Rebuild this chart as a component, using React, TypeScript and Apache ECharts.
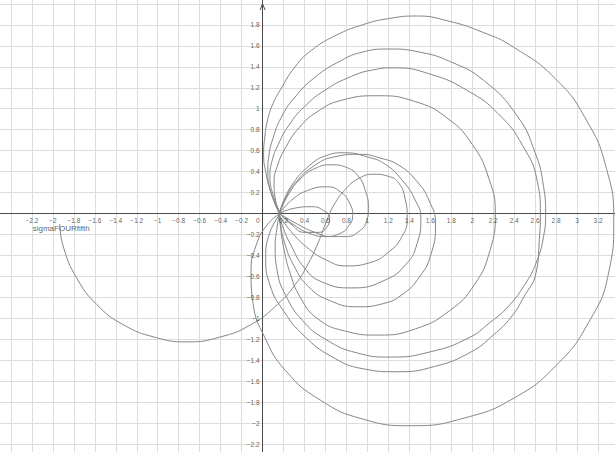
import React, { useEffect, useRef } from 'react';
import * as echarts from 'echarts';

// axis ranges and ticks (data units)
const xRange = [-2.6, 3.4];
const yRange = [-2.4, 2.2];
const tickStep = 0.2;
const xTickLabels = [-2.2, -2, -1.8, -1.6, -1.4, -1.2, -1, -0.8, -0.6, -0.4, -0.2, 0.2, 0.4, 0.6, 0.8, 1, 1.2, 1.4, 1.6, 1.8, 2, 2.2, 2.4, 2.6, 2.8, 3, 3.2];
const yTickLabels = [-2.2, -2, -1.8, -1.6, -1.4, -1.2, -1, -0.8, -0.6, -0.4, -0.2, 0.2, 0.4, 0.6, 0.8, 1, 1.2, 1.4, 1.6, 1.8];
const originLabel = '0';
const curveLabel = 'sigmaFOURfifth';

// traced curve pieces [x, y]
const startArc = [
  [-1.935, -0.1], [-1.9, -0.32], [-1.77, -0.62], [-1.58, -0.87], [-1.33, -1.06], [-1.03, -1.18],
  [-0.72, -1.225], [-0.41, -1.18], [-0.11, -1.06], [0.14, -0.87], [0.31, -0.68], [0.44, -0.47],
  [0.53, -0.28], [0.6, -0.1], [0.68, 0.08], [0.79, 0.23], [0.91, 0.33], [1.06, 0.375], [1.2, 0.355],
  [1.3, 0.29], [1.36, 0.14], [1.38, -0.04], [1.33, -0.22], [1.2, -0.37], [1.02, -0.47], [0.8, -0.5],
  [0.6, -0.44], [0.42, -0.32], [0.27, -0.17], [0.16, -0.02],
];

const loopOuter = [
  [0.17, 0.0], [0.08, 0.2], [0.03, 0.4], [0.01, 0.56], [0.02, 0.72], [0.05, 0.9], [0.1, 1.05],
  [0.17, 1.18], [0.31, 1.4], [0.47, 1.56], [0.7, 1.7], [0.95, 1.8], [1.2, 1.86], [1.47, 1.885],
  [1.76, 1.84], [2.1, 1.73], [2.39, 1.59], [2.79, 1.29], [3.09, 0.89], [3.28, 0.43], [3.35, -0.07],
  [3.3, -0.57], [3.11, -1.04], [2.8, -1.45], [2.4, -1.76], [1.93, -1.95], [1.42, -2.025],
  [0.95, -1.96], [0.55, -1.78], [0.22, -1.5], [0.02, -1.18], [-0.09, -0.86], [-0.11, -0.56],
  [-0.06, -0.3], [0.05, -0.1], [0.17, 0.0],
];

const loopBig2 = [
  [0.16, 0.0], [0.08, 0.2], [0.05, 0.4], [0.06, 0.55], [0.1, 0.72], [0.18, 0.92], [0.3, 1.1],
  [0.5, 1.3], [0.75, 1.46], [0.95, 1.54], [1.2, 1.57], [1.5, 1.54], [1.79, 1.45], [2.11, 1.27],
  [2.43, 0.93], [2.6, 0.58], [2.68, 0.26], [2.7, 0.0], [2.68, -0.22], [2.61, -0.47], [2.5, -0.68],
  [2.35, -0.88], [2.17, -1.04], [1.96, -1.19], [1.6, -1.32], [1.22, -1.37], [0.9, -1.33], [0.6, -1.2],
  [0.38, -1.02], [0.22, -0.78], [0.14, -0.55], [0.12, -0.32], [0.14, -0.12], [0.16, 0.0],
];

const loopBig3 = [
  [0.17, 0.0], [0.1, 0.18], [0.07, 0.35], [0.09, 0.5], [0.15, 0.66], [0.25, 0.84], [0.4, 1.02],
  [0.6, 1.18], [0.85, 1.31], [1.05, 1.37], [1.25, 1.39], [1.6, 1.33], [1.96, 1.17], [2.25, 0.95],
  [2.48, 0.65], [2.62, 0.31], [2.65, 0.0], [2.64, -0.25], [2.61, -0.56], [2.49, -0.8], [2.37, -0.99],
  [2.2, -1.16], [1.99, -1.32], [1.64, -1.46], [1.28, -1.51], [0.95, -1.48], [0.65, -1.36],
  [0.4, -1.17], [0.2, -0.93], [0.07, -0.68], [0.03, -0.42], [0.07, -0.18], [0.17, 0.0],
];

const loopBig4 = [
  [0.16, 0.0], [0.12, 0.15], [0.11, 0.3], [0.14, 0.45], [0.22, 0.63], [0.35, 0.82], [0.52, 0.97],
  [0.75, 1.08], [1.105, 1.124], [1.45, 1.07], [1.75, 0.92], [2.0, 0.66], [2.16, 0.33], [2.22, 0.0],
  [2.17, -0.35], [2.02, -0.68], [1.78, -0.93], [1.46, -1.1], [1.105, -1.16], [0.78, -1.12],
  [0.52, -1.0], [0.36, -0.8], [0.26, -0.56], [0.2, -0.32], [0.17, -0.12], [0.16, 0.0],
];

const loopMid5 = [
  [0.16, 0.0], [0.22, 0.15], [0.32, 0.3], [0.47, 0.44], [0.68, 0.54], [0.93, 0.565], [1.12, 0.53],
  [1.3, 0.46], [1.47, 0.31], [1.59, 0.12], [1.65, -0.1], [1.6, -0.41], [1.5, -0.6], [1.35, -0.76],
  [1.15, -0.86], [0.9, -0.89], [0.64, -0.83], [0.44, -0.7], [0.3, -0.5], [0.21, -0.28], [0.17, -0.1],
  [0.16, 0.0],
];

const loopMid6 = [
  [0.16, 0.0], [0.2, 0.12], [0.3, 0.3], [0.45, 0.46], [0.6, 0.55], [0.78, 0.58], [1.0, 0.54],
  [1.17, 0.47], [1.33, 0.32], [1.45, 0.14], [1.51, -0.05], [1.47, -0.3], [1.38, -0.47], [1.18, -0.63],
  [0.85, -0.71], [0.56, -0.65], [0.4, -0.52], [0.27, -0.3], [0.19, -0.12], [0.16, 0.0],
];

const loopSmall7 = [
  [0.16, 0.0], [0.24, 0.17], [0.36, 0.33], [0.5, 0.43], [0.66, 0.465], [0.8, 0.44], [0.91, 0.36],
  [0.98, 0.22], [1.01, 0.05], [0.99, -0.08], [0.92, -0.17], [0.8, -0.22], [0.66, -0.22], [0.5, -0.18],
  [0.33, -0.1], [0.16, 0.0],
];

const loopSmall8 = [
  [0.16, 0.0], [0.28, 0.13], [0.43, 0.22], [0.61, 0.255], [0.74, 0.21], [0.83, 0.1], [0.86, -0.02],
  [0.82, -0.12], [0.74, -0.19], [0.6, -0.22], [0.45, -0.19], [0.3, -0.11], [0.16, 0.0],
];

const loopSmall9 = [
  [0.16, 0.0], [0.3, 0.05], [0.47, 0.065], [0.58, 0.03], [0.64, -0.04], [0.62, -0.12],
  [0.53, -0.18], [0.4, -0.18], [0.27, -0.1], [0.16, 0.0],
];

const curves = [startArc, loopOuter, loopBig2, loopBig3, loopBig4, loopMid5, loopMid6, loopSmall7, loopSmall8, loopSmall9];

const FONT = '"Liberation Sans", Arial, sans-serif';
const TICK_COLOR = '#333333';

function fmt(v: number): string {
  const r = Math.round(v * 10) / 10;
  return (r < 0 ? '\u2212' : '') + String(Math.abs(r));
}

export default function App() {
  const ref = useRef<HTMLDivElement>(null);
  useEffect(() => {
    if (!ref.current) return;
    const chart = echarts.init(ref.current, null, { renderer: 'svg' });
    const curveColor = '#868686';
    const series: any[] = curves.map((d) => ({
      type: 'line',
      data: d,
      smooth: 0.5,
      showSymbol: false,
      symbol: 'none',
      silent: true,
      lineStyle: { color: curveColor, width: 1 },
      z: 3,
    }));
    const tickText = { fontFamily: FONT, fontSize: 6.5, lineHeight: 7, color: TICK_COLOR };
    series.push({
      type: 'scatter',
      data: xTickLabels.map((v) => [v, 0]),
      symbolSize: 0,
      silent: true,
      label: { show: true, position: 'bottom', distance: 3, formatter: (p: any) => fmt(p.value[0]), ...tickText },
      z: 5,
    });
    series.push({
      type: 'scatter',
      data: yTickLabels.map((v) => [0, v]),
      symbolSize: 0,
      silent: true,
      label: { show: true, position: 'left', distance: 3, formatter: (p: any) => fmt(p.value[1]), ...tickText },
      z: 5,
    });
    series.push({
      type: 'scatter',
      data: [[0, 0]],
      symbolSize: 0,
      silent: true,
      label: { show: true, position: [-6.5, 3], formatter: originLabel, ...tickText },
      z: 5,
    });
    series.push({
      type: 'scatter',
      data: [startArc[0]],
      symbolSize: 0,
      silent: true,
      label: {
        show: true,
        formatter: curveLabel,
        position: [-27, 0],
        fontFamily: FONT,
        fontSize: 8,
        lineHeight: 9,
        color: '#333333',
      },
      z: 5,
    });
    chart.setOption({
      animation: false,
      backgroundColor: '#ffffff',
      grid: { left: 0, right: 0, top: 0, bottom: 0, containLabel: false, outerBoundsMode: 'none' },
      xAxis: {
        type: 'value',
        min: xRange[0],
        max: xRange[1],
        interval: tickStep,
        axisLine: { show: true, onZero: true, lineStyle: { color: '#4a4a4a', width: 1 } },
        axisTick: { show: false },
        axisLabel: { show: false },
        splitLine: { show: true, lineStyle: { color: '#dcdcdc', width: 1 } },
      },
      yAxis: {
        type: 'value',
        min: yRange[0],
        max: yRange[1],
        interval: tickStep,
        axisLine: { show: true, onZero: true, lineStyle: { color: '#4a4a4a', width: 1 } },
        axisTick: { show: false },
        axisLabel: { show: false },
        splitLine: { show: true, lineStyle: { color: '#dcdcdc', width: 1 } },
      },
      series,
    });
    const tip = chart.convertToPixel({ gridIndex: 0 }, [0, 2.0]) as number[];
    if (tip && isFinite(tip[0])) {
      chart.setOption({
        graphic: [
          {
            type: 'polyline',
            shape: { points: [[tip[0] - 2.5, tip[1] + 6], [tip[0], tip[1]], [tip[0] + 2.5, tip[1] + 6]] },
            style: { stroke: '#4a4a4a', lineWidth: 1, fill: 'none' },
            silent: true,
            z: 10,
          },
        ],
      });
    }
    return () => chart.dispose();
  }, []);
  return (
    <div style={{ position: 'fixed', left: 0, top: 0, width: 615, height: 452, overflow: 'hidden', background: '#fff' }}>
      <div ref={ref} style={{ position: 'absolute', left: -10, top: -17, width: 629, height: 482 }} />
    </div>
  );
}
